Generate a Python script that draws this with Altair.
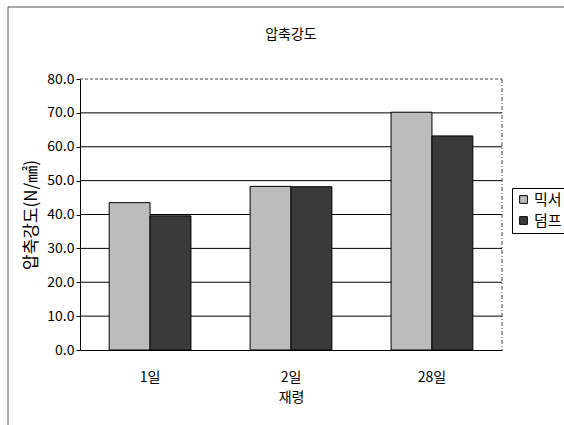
import altair as alt
import pandas as pd

# Compressive strength by curing age, mixer vs. dump truck samples
ages = ["1일", "2일", "28일"]
series = ["믹서", "덤프"]
mixer = [43.5, 48.3, 70.2]
dump = [39.6, 48.2, 63.2]
y_ticks = [0, 10, 20, 30, 40, 50, 60, 70, 80]
grid_values = [10, 20, 30, 40, 50, 60, 70]
chart_title = "압축강도"

FONT = "Noto Sans CJK KR"
W, H = 422, 271

rows = []
for a, m, d in zip(ages, mixer, dump):
    rows.append({"재령": a, "구분": series[0], "강도": m})
    rows.append({"재령": a, "구분": series[1], "강도": d})
df = pd.DataFrame(rows)

y_scale = alt.Scale(domain=[0, 80], nice=False, zero=True)
y_axis = alt.Axis(
    title="압축강도(N/㎟)",
    values=y_ticks,
    format=".1f",
    grid=False,
    labelOverlap=False,
    domain=True,
    domainColor="black",
    ticks=True,
    tickSize=4,
    tickColor="black",
    labelFont=FONT,
    labelFontSize=14,
    labelColor="black",
    labelPadding=2,
    titleFont=FONT,
    titleFontSize=17,
    titleFontWeight="normal",
    titleColor="black",
    titlePadding=6,
)

bars = alt.Chart(df).mark_bar(stroke="black", strokeWidth=1).encode(
    x=alt.X(
        "재령:N",
        sort=ages,
        scale=alt.Scale(paddingInner=0.42, paddingOuter=0.207),
        axis=alt.Axis(
            title="재령",
            labelAngle=0,
            ticks=False,
            domain=True,
            domainColor="black",
            labelFont=FONT,
            labelFontSize=14,
            labelColor="black",
            labelPadding=20,
            titleFont=FONT,
            titleFontSize=14,
            titleFontWeight="normal",
            titleColor="black",
            titlePadding=6,
        ),
    ),
    xOffset=alt.XOffset("구분:N", sort=series, scale=alt.Scale(paddingInner=0, paddingOuter=0)),
    y=alt.Y("강도:Q", scale=y_scale, axis=y_axis),
    color=alt.Color(
        "구분:N",
        sort=series,
        scale=alt.Scale(domain=series, range=["#bcbcbc", "#3a3a3a"]),
        legend=alt.Legend(
            title=None,
            orient="none",
            legendX=432,
            legendY=109,
            symbolType="square",
            symbolSize=60,
            symbolStrokeColor="black",
            symbolStrokeWidth=1,
            labelFont=FONT,
            labelFontSize=15,
            labelColor="black",
            strokeColor="black",
            padding=4,
            rowPadding=5,
            labelOffset=3,
        ),
    ),
)

grid = alt.Chart(pd.DataFrame({"강도": grid_values})).mark_rule(
    color="black", strokeWidth=1
).encode(y=alt.Y("강도:Q", scale=y_scale, axis=y_axis), x=alt.value(0), x2=alt.value(W))

top_edge = alt.Chart(pd.DataFrame({"강도": [80]})).mark_rule(
    color="#444", strokeWidth=1, strokeDash=[3, 2]
).encode(y=alt.Y("강도:Q", scale=y_scale, axis=y_axis), x=alt.value(0), x2=alt.value(W))

right_edge = alt.Chart(pd.DataFrame({"v": [0]})).mark_rule(
    color="#444", strokeWidth=1, strokeDash=[4, 2, 1, 2]
).encode(x=alt.value(W), y=alt.value(0), y2=alt.value(H))

frame = alt.Chart(pd.DataFrame({"v": [0]})).mark_rect(
    fill=None, stroke="#555", strokeWidth=1
).encode(x=alt.value(-72), x2=alt.value(W + 100), y=alt.value(-72), y2=alt.value(H + 120))

heading = alt.Chart(pd.DataFrame({"t": [chart_title]})).mark_text(
    font=FONT, fontSize=14, color="black", align="center", baseline="middle"
).encode(text="t:N", x=alt.value(W / 2), y=alt.value(-44))

chart = alt.layer(frame, grid, bars, top_edge, right_edge, heading).resolve_scale(
    y="shared"
).properties(
    width=W,
    height=H,
    autosize=alt.AutoSizeParams(type="none"),
    padding={"left": 80, "top": 79, "right": 62, "bottom": 75},
    background="white",
).configure_view(stroke=None).configure_axis(labelOverlap=False)

chart.save("out.html", embed_options={"renderer": "svg", "actions": False})
